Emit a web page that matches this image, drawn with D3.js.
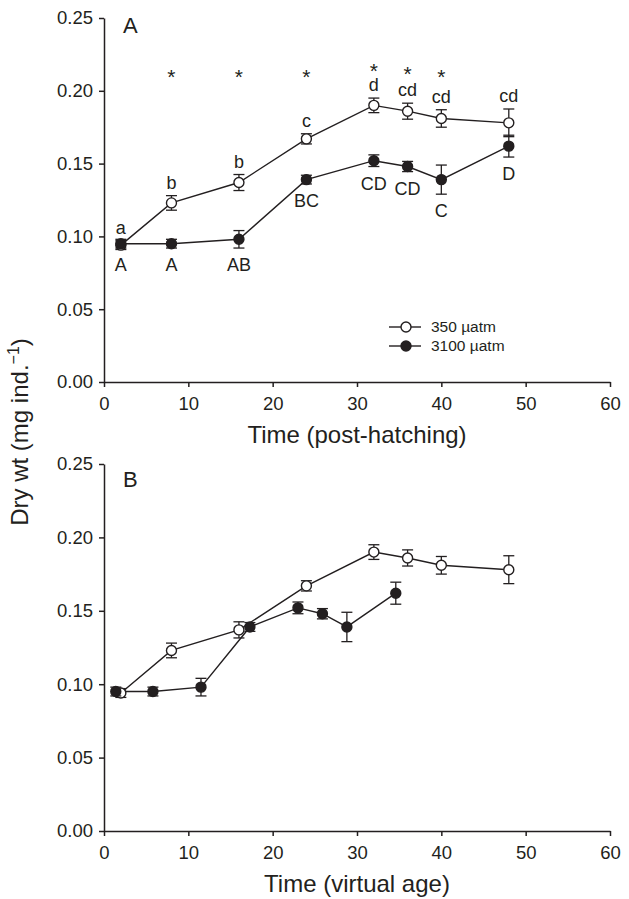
<!DOCTYPE html>
<html>
<head>
<meta charset="utf-8">
<script src="https://cdn.jsdelivr.net/npm/d3@7"></script>
<style>
  body { margin: 0; background: #fff; }
  svg { display: block; font-family: "Liberation Sans", Arial, Helvetica, sans-serif; }
  .axis path, .axis line { stroke: #231f20; stroke-width: 1.5px; }
  .axis text { fill: #231f20; font-size: 18.5px; }
</style>
</head>
<body>
<svg id="chart" width="629" height="899"></svg>
<script>
// sampling times (days post-hatching)
const timePost = [2, 8, 16, 24, 32, 36, 40, 48];
// virtual age of each sample
const virtAge350 = [2, 8, 16, 24, 32, 36, 40, 48];
const virtAge3100 = [1.4, 5.8, 11.5, 17.3, 23.0, 25.9, 28.8, 34.6];

// dry weight (mg ind.-1), mean and SE
const dw350 = [0.094, 0.123, 0.137, 0.167, 0.190, 0.186, 0.181, 0.178];
const se350 = [0.003, 0.005, 0.0055, 0.0035, 0.005, 0.0055, 0.006, 0.0095];
const dw3100 = [0.095, 0.095, 0.098, 0.139, 0.152, 0.148, 0.139, 0.162];
const se3100 = [0.003, 0.003, 0.006, 0.003, 0.004, 0.0035, 0.010, 0.0075];

// significance letters and stars (panel A)
const letters350 = ["a", "b", "b", "c", "d", "cd", "cd", "cd"];
const letters3100 = ["A", "A", "AB", "BC", "CD", "CD", "C", "D"];
const starTimes = [8, 16, 24, 32, 36, 40];
const starLevels = [0.213, 0.213, 0.213, 0.217, 0.215, 0.213];

const xTicks = [0, 10, 20, 30, 40, 50, 60];
const yTicks = [0, 0.05, 0.10, 0.15, 0.20, 0.25];
const legendLabels = ["350 µatm", "3100 µatm"];

const svg = d3.select("#chart");
const ink = "#231f20";
const left = 104, right = 610;

const panels = [
    { id: "A", top: 18, bottom: 382, letterY: 33, xTitle: "Time (post-hatching)",
      x350: timePost, x3100: timePost, marks: true, legend: true },
    { id: "B", top: 464, bottom: 831, letterY: 487, xTitle: "Time (virtual age)",
      x350: virtAge350, x3100: virtAge3100, marks: false, legend: false }
];

function zip(xs, ys, ses) {
    return xs.map((x, i) => ({ x: x, y: ys[i], se: ses[i], i: i }));
}

panels.forEach(p => {
    const x = d3.scaleLinear().domain([0, 60]).range([left, right]);
    const y = d3.scaleLinear().domain([0, 0.25]).range([p.bottom, p.top]);
    const g = svg.append("g");

    g.append("g")
        .attr("class", "axis")
        .attr("transform", `translate(0,${p.bottom})`)
        .call(d3.axisBottom(x).tickValues(xTicks).tickSize(5).tickPadding(10).tickSizeOuter(0));

    g.append("g")
        .attr("class", "axis")
        .attr("transform", `translate(${left},0)`)
        .call(d3.axisLeft(y).tickValues(yTicks).tickSize(5).tickPadding(6).tickSizeOuter(0)
            .tickFormat(d3.format(".2f")));

    g.append("text")
        .attr("x", (left + right) / 2)
        .attr("y", p.bottom + 61)
        .attr("text-anchor", "middle")
        .attr("font-size", 24)
        .attr("fill", ink)
        .text(p.xTitle);

    g.append("text")
        .attr("x", 123)
        .attr("y", p.letterY)
        .attr("font-size", 22)
        .attr("fill", ink)
        .text(p.id);

    const series = [
        { pts: zip(p.x350, dw350, se350), fill: "#fff" },
        { pts: zip(p.x3100, dw3100, se3100), fill: ink }
    ];

    const line = d3.line().x(d => x(d.x)).y(d => y(d.y));

    series.forEach(s => {
        g.append("path")
            .datum(s.pts)
            .attr("d", line)
            .attr("fill", "none")
            .attr("stroke", ink)
            .attr("stroke-width", 1.4);
    });

    series.forEach(s => {
        const eb = g.append("g").attr("stroke", ink).attr("stroke-width", 1.3);
        s.pts.forEach(d => {
            const cx = x(d.x), y0 = y(d.y - d.se), y1 = y(d.y + d.se);
            eb.append("line").attr("x1", cx).attr("x2", cx).attr("y1", y0).attr("y2", y1);
            eb.append("line").attr("x1", cx - 5.5).attr("x2", cx + 5.5).attr("y1", y0).attr("y2", y0);
            eb.append("line").attr("x1", cx - 5.5).attr("x2", cx + 5.5).attr("y1", y1).attr("y2", y1);
        });
        g.append("g").selectAll("circle")
            .data(s.pts)
            .join("circle")
            .attr("cx", d => x(d.x))
            .attr("cy", d => y(d.y))
            .attr("r", 5)
            .attr("fill", s.fill)
            .attr("stroke", ink)
            .attr("stroke-width", 1.4);
    });

    if (p.marks) {
        g.append("g").selectAll("text")
            .data(series[0].pts)
            .join("text")
            .attr("x", d => x(d.x))
            .attr("y", d => y(d.y + d.se) - 7)
            .attr("text-anchor", "middle")
            .attr("font-size", 18)
            .attr("fill", ink)
            .text(d => letters350[d.i]);

        g.append("g").selectAll("text")
            .data(series[1].pts)
            .join("text")
            .attr("x", d => x(d.x))
            .attr("y", d => y(d.y - d.se) + 23)
            .attr("text-anchor", "middle")
            .attr("font-size", 18)
            .attr("fill", ink)
            .text(d => letters3100[d.i]);

        // stars sit high in the em box, so the baseline is pushed below the mark
        g.append("g").selectAll("text")
            .data(starTimes)
            .join("text")
            .attr("x", d => x(d))
            .attr("y", (d, i) => y(starLevels[i]) + 12)
            .attr("text-anchor", "middle")
            .attr("font-size", 21)
            .attr("fill", ink)
            .text("*");
    }

    if (p.legend) {
        const lg = g.append("g").attr("transform", "translate(389,327)");
        legendLabels.forEach((lab, i) => {
            const row = lg.append("g").attr("transform", `translate(0,${i * 19})`);
            row.append("line").attr("x1", 0).attr("x2", 32).attr("stroke", ink).attr("stroke-width", 1.4);
            row.append("circle").attr("cx", 17).attr("r", 5)
                .attr("fill", i === 0 ? "#fff" : ink).attr("stroke", ink).attr("stroke-width", 1.4);
            row.append("text").attr("x", 42).attr("dy", "0.35em")
                .attr("font-size", 15.5).attr("fill", ink).text(lab);
        });
    }
});

// shared y-axis title
const yt = svg.append("text")
    .attr("transform", "translate(28,432) rotate(-90)")
    .attr("text-anchor", "middle")
    .attr("font-size", 24)
    .attr("fill", ink);
yt.append("tspan").text("Dry wt (mg ind.");
yt.append("tspan").attr("font-size", 16).attr("dy", -9).text("−1");
yt.append("tspan").attr("dy", 9).text(")");
</script>
</body>
</html>
